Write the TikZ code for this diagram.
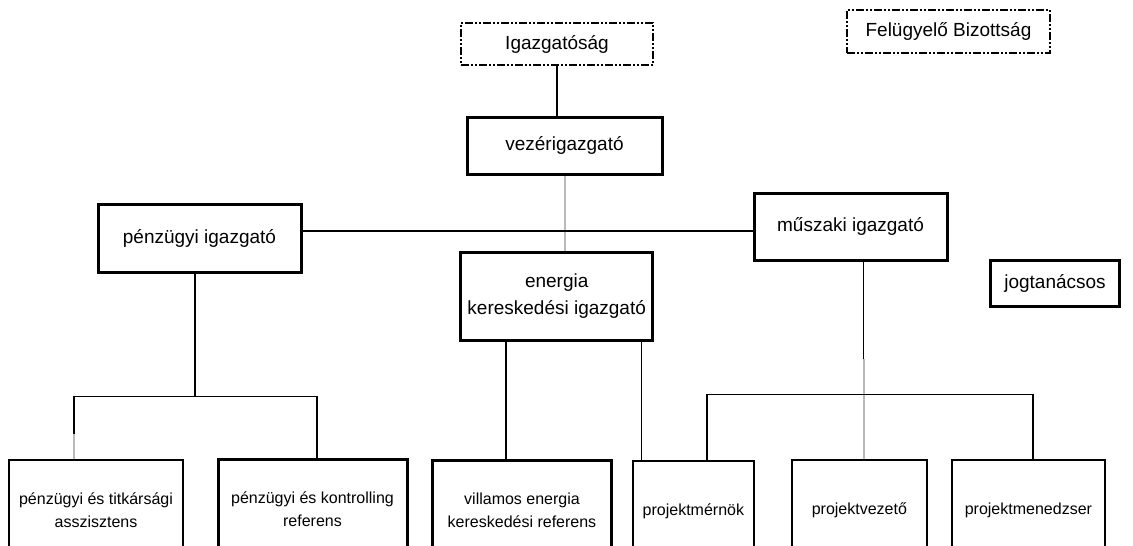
\documentclass[tikz,border=0pt]{standalone}
\usepackage{fontspec}
\setmainfont{Liberation Sans}
\tikzset{
  box/.style={draw, rectangle, inner sep=0pt, align=center, font=\fontsize{19}{27}\selectfont},
  thickbox/.style={box, line width=3pt},
  thinbox/.style={box, line width=1.5pt, font=\fontsize{16}{23}\selectfont},
  lowbox/.style={box, line width=3pt, font=\fontsize{16}{23}\selectfont},
  dashbox/.style={box, line width=2.6pt, dash pattern=on 8pt off 2pt on 2pt off 2pt on 2pt off 2pt},
  conn/.style={line width=1.5pt},
  bigline/.style={line width=2.6pt},
  grayline/.style={line width=2pt, gray!55}
}
\begin{document}
\begin{tikzpicture}[x=1pt,y=-1pt]
\clip (0,0) rectangle (1133,546);
\node[dashbox, minimum width=192pt, minimum height=42pt] (igaz) at (557,44) {Igazgatóság};
\node[dashbox, minimum width=203pt, minimum height=43pt] (felu) at (948.5,31.5) {Felügyelő Bizottság};
\node[thickbox, minimum width=195pt, minimum height=57pt] (vezer) at (564.5,145.5) {vezérigazgató};
\node[thickbox, minimum width=203pt, minimum height=68pt] (penz) at (199.5,238) {pénzügyi igazgató};
\node[thickbox, minimum width=192pt, minimum height=88pt] (energia) at (556.7,296) {energia\\kereskedési igazgató};
\node[thickbox, minimum width=193pt, minimum height=67pt] (musz) at (850.5,226.5) {műszaki igazgató};
\node[thickbox, minimum width=129pt, minimum height=46pt] (jog) at (1055,283) {jogtanácsos};
% bottom row
\node[thinbox, minimum width=174pt, minimum height=100pt] (titk) at (96,510) {pénzügyi és titkársági\\asszisztens};
\node[lowbox, minimum width=189pt, minimum height=100pt] (kont) at (312.5,509) {pénzügyi és kontrolling\\referens};
\node[lowbox, minimum width=179pt, minimum height=100pt] (vill) at (522,510.7) {villamos energia\\kereskedési referens};
\node[thinbox, minimum width=121pt, minimum height=100pt] (pmer) at (693.4,511) {projektmérnök};
\node[thinbox, minimum width=135pt, minimum height=100pt] (pvez) at (859.4,510) {projektvezető};
\node[thinbox, minimum width=153pt, minimum height=100pt] (pmen) at (1028.4,510) {projektmenedzser};
% connectors
\draw[bigline] (igaz.south) -- (igaz.south |- vezer.north);
\draw[grayline] (vezer.south) -- (vezer.south |- energia.north);
\draw[conn] ([yshift=7pt]penz.east) -- ([yshift=7pt]penz.east -| musz.west);
\draw[conn] ([xshift=-4.5pt]penz.south) -- ++(0,123) coordinate (pj);
\draw[conn] ([xshift=-22pt]titk.north) |- (pj) -| ([xshift=4.5pt]kont.north);
\draw[grayline] ([xshift=-22pt]titk.north) -- ++(0,-25);
\draw[conn] ([xshift=-16pt]vill.north) -- ([xshift=-16pt]vill.north |- energia.south);
\draw[conn] ([xshift=-51.7pt]pmer.north) -- ([xshift=-51.7pt]pmer.north |- energia.south);
\draw[conn] ([xshift=13pt]musz.south) -- ++(0,97) coordinate (mj);
\draw[grayline] (mj) -- (mj |- pvez.north);
\draw[conn] ([xshift=13.6pt]pmer.north) -- ++(0,-66) -| ([xshift=4.6pt]pmen.north);
\end{tikzpicture}
\end{document}
